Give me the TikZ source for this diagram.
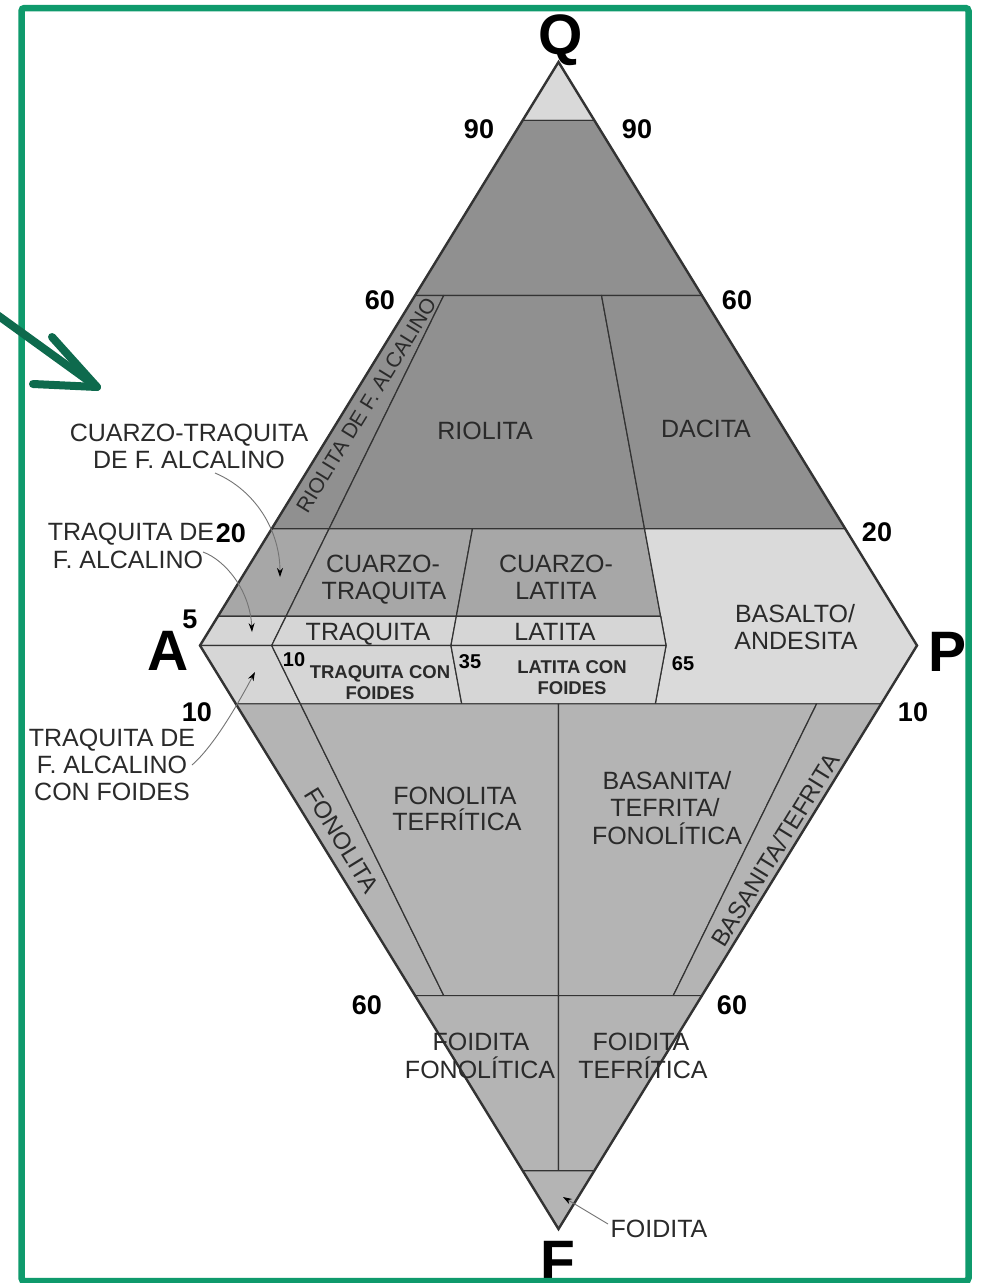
\documentclass[tikz,border=0pt]{standalone}
\usepackage{fontspec}
\setmainfont{Liberation Sans}
\usetikzlibrary{arrows.meta}
\definecolor{ctop}{HTML}{D9D9D9}
\definecolor{cdark}{HTML}{909090}
\definecolor{cmid}{HTML}{A7A7A7}
\definecolor{clight}{HTML}{D6D6D6}
\definecolor{cbas}{HTML}{DADADA}
\definecolor{cfoid}{HTML}{B4B4B4}
\definecolor{linec}{HTML}{333333}
\definecolor{txt}{HTML}{2A2A2A}
\definecolor{gborder}{HTML}{0F9A6C}
\definecolor{garrow}{HTML}{0E6A4D}
\tikzset{
  reg/.style={draw=linec, line width=1.2pt, line join=round},
  t25/.style={inner sep=0pt, text=txt, font=\fontsize{25}{25}\selectfont, text height=17.9pt, text depth=0pt},
  t24/.style={inner sep=0pt, text=txt, font=\fontsize{24}{24}\selectfont, text height=17.2pt, text depth=0pt},
  t21/.style={inner sep=0pt, text=txt, font=\fontsize{21}{21}\selectfont, text height=15pt, text depth=0pt},
  tsb/.style={inner sep=0pt, text=txt, font=\bfseries\fontsize{18.5}{18.5}\selectfont, text height=13.3pt, text depth=0pt},
  num/.style={inner sep=0pt, text=black, font=\bfseries\fontsize{27}{27}\selectfont, text height=19.3pt, text depth=0pt},
  snum/.style={inner sep=0pt, text=black, font=\bfseries\fontsize{20}{20}\selectfont, text height=14.3pt, text depth=0pt},
  big/.style={inner sep=0pt, text=black, font=\bfseries\fontsize{57}{57}\selectfont, text height=40.8pt, text depth=0pt},
  call/.style={draw=black!55, line width=0.9pt, -{Stealth[length=9pt,width=6pt,black]}},
  garr/.style={draw=garrow, line width=8pt, line cap=round, line join=round}
}
\begin{document}
\begin{tikzpicture}[x=1pt,y=-1pt]
\useasboundingbox (0,0) rectangle (986,1283);
\fill[white] (0,0) rectangle (986,1283);

% ---- upper triangle regions ----
\filldraw[reg, fill=ctop] (558.5,62) -- (594.35,120.35) -- (522.65,120.35) -- cycle;
\filldraw[reg, fill=cdark] (522.65,120.35) -- (594.35,120.35) -- (701.9,295.4) -- (415.1,295.4) -- cycle;
\filldraw[reg, fill=cdark] (415.1,295.4) -- (443.78,295.4) -- (329.06,528.8) -- (271.7,528.8) -- cycle;
\filldraw[reg, fill=cdark] (443.78,295.4) -- (601.52,295.4) -- (644.54,528.8) -- (329.06,528.8) -- cycle;
\filldraw[reg, fill=cdark] (601.52,295.4) -- (701.9,295.4) -- (845.3,528.8) -- (644.54,528.8) -- cycle;
\filldraw[reg, fill=cmid] (271.7,528.8) -- (329.06,528.8) -- (286.04,616.3) -- (217.93,616.3) -- cycle;
\filldraw[reg, fill=cmid] (329.06,528.8) -- (472.46,528.8) -- (456.33,616.3) -- (286.04,616.3) -- cycle;
\filldraw[reg, fill=cmid] (472.46,528.8) -- (644.54,528.8) -- (660.67,616.3) -- (456.33,616.3) -- cycle;
\filldraw[reg, fill=cbas] (644.54,528.8) -- (845.3,528.8) -- (917,645.5) -- (881.15,703.85) -- (655.3,703.85) -- (666.05,645.5) -- (660.67,616.3) -- cycle;
\filldraw[reg, fill=clight] (217.93,616.3) -- (286.04,616.3) -- (271.7,645.5) -- (200,645.5) -- cycle;
\filldraw[reg, fill=clight] (286.04,616.3) -- (456.33,616.3) -- (450.95,645.5) -- (271.7,645.5) -- cycle;
\filldraw[reg, fill=clight] (456.33,616.3) -- (660.67,616.3) -- (666.05,645.5) -- (450.95,645.5) -- cycle;
% ---- lower triangle regions ----
\filldraw[reg, fill=clight] (200,645.5) -- (271.7,645.5) -- (300.38,703.85) -- (235.85,703.85) -- cycle;
\filldraw[reg, fill=clight] (271.7,645.5) -- (450.95,645.5) -- (461.71,703.85) -- (300.38,703.85) -- cycle;
\filldraw[reg, fill=clight] (450.95,645.5) -- (666.05,645.5) -- (655.3,703.85) -- (461.71,703.85) -- cycle;
\filldraw[reg, fill=cfoid] (235.85,703.85) -- (300.38,703.85) -- (443.78,995.6) -- (415.1,995.6) -- cycle;
\filldraw[reg, fill=cfoid] (300.38,703.85) -- (558.5,703.85) -- (558.5,995.6) -- (443.78,995.6) -- cycle;
\filldraw[reg, fill=cfoid] (558.5,703.85) -- (816.62,703.85) -- (673.22,995.6) -- (558.5,995.6) -- cycle;
\filldraw[reg, fill=cfoid] (816.62,703.85) -- (881.15,703.85) -- (701.9,995.6) -- (673.22,995.6) -- cycle;
\filldraw[reg, fill=cfoid] (415.1,995.6) -- (558.5,995.6) -- (558.5,1170.65) -- (522.65,1170.65) -- cycle;
\filldraw[reg, fill=cfoid] (558.5,995.6) -- (701.9,995.6) -- (594.35,1170.65) -- (558.5,1170.65) -- cycle;
\filldraw[reg, fill=cfoid] (522.65,1170.65) -- (594.35,1170.65) -- (558.5,1229) -- cycle;
% ---- outer outline ----
\draw[draw=linec, line width=2.4pt, line join=miter] (200,645.5) -- (558.5,62) -- (917,645.5) -- (558.5,1229) -- cycle;

% ---- apex letters ----
\node[big] (lQ) at (561,34) {Q};
\node[big] (lA) at (168,650) {A};
\node[big] (lP) at (947,651) {P};
\node[big] (lF) at (558,1260) {F};

% ---- scale numbers ----
\node[num] (n90l) at (479,129) {90};
\node[num] (n90r) at (637,129) {90};
\node[num] (n60l) at (380,300) {60};
\node[num] (n60r) at (737,300) {60};
\node[num] (n20l) at (231,533) {20};
\node[num] (n20r) at (877,532) {20};
\node[num] (n5) at (190,619) {5};
\node[num] (n10l) at (197,712) {10};
\node[num] (n10r) at (913,712) {10};
\node[num] (n60bl) at (367,1005) {60};
\node[num] (n60br) at (732,1005) {60};
\node[snum] (s10) at (294,659) {10};
\node[snum] (s35) at (470,661) {35};
\node[snum] (s65) at (683,663) {65};

% ---- field labels ----
\node[t25] (riol) at (485,431) {RIOLITA};
\node[t25] (dac) at (706,429) {DACITA};
\node[t21, rotate=58.4] (rfa) at (366,405) {RIOLITA DE F. ALCALINO};
\node[t25] (cqt1) at (383,564) {CUARZO-};
\node[t25] (cqt2) at (384,591) {TRAQUITA};
\node[t25] (cql1) at (556,564) {CUARZO-};
\node[t25] (cql2) at (556,591) {LATITA};
\node[t25] (traq) at (368,632) {TRAQUITA};
\node[t25] (lat) at (555,632) {LATITA};
\node[t25] (bas1) at (795,614) {BASALTO/};
\node[t25] (bas2) at (796,641) {ANDESITA};
\node[tsb] (tcf1) at (380,672) {TRAQUITA CON};
\node[tsb] (tcf2) at (380,693) {FOIDES};
\node[tsb] (lcf1) at (572,667) {LATITA CON};
\node[tsb] (lcf2) at (572,688) {FOIDES};
\node[t24, rotate=-58.4] (fon) at (342,840) {FONOLITA};
\node[t25] (ft1) at (455,796) {FONOLITA};
\node[t25] (ft2) at (457,822) {TEFRÍTICA};
\node[t25] (btf1) at (667,781) {BASANITA/};
\node[t25] (btf2) at (665,808) {TEFRITA/};
\node[t25] (btf3) at (667,836) {FONOLÍTICA};
\node[t24, rotate=58.4] (bt) at (775,850) {BASANITA/TEFRITA};
\node[t25] (ff1) at (481,1042) {FOIDITA};
\node[t25] (ff2) at (480,1070) {FONOLÍTICA};
\node[t25] (fte1) at (641,1042) {FOIDITA};
\node[t25] (fte2) at (643,1070) {TEFRÍTICA};

% ---- outside labels ----
\node[t25] (cqfa1) at (189,433) {CUARZO-TRAQUITA};
\node[t25] (cqfa2) at (189,460) {DE F. ALCALINO};
\node[t25] (tfa1) at (131,532) {TRAQUITA DE};
\node[t25] (tfa2) at (128,560) {F. ALCALINO};
\node[t25] (tfc1) at (112,738) {TRAQUITA DE};
\node[t25] (tfc2) at (112,765) {F. ALCALINO};
\node[t25] (tfc3) at (112,792) {CON FOIDES};
\node[t25] (foid) at (659,1229) {FOIDITA};

% ---- callout connectors ----
\coordinate (c1s) at (215,473);
\coordinate (c1e) at (280,577);
\coordinate (c2s) at (203,552);
\coordinate (c2e) at (252,632);
\coordinate (c3s) at (192,765);
\coordinate (c3e) at (255,672);
\coordinate (c4s) at (608,1224);
\coordinate (c4e) at (563,1197);
\draw[call] (c1s) .. controls (255,490) and (280,530) .. (c1e);
\draw[call] (c2s) .. controls (225,560) and (250,590) .. (c2e);
\draw[call] (c3s) .. controls (215,745) and (240,700) .. (c3e);
\draw[call] (c4s) -- (c4e);

% ---- green frame and arrow ----
\draw[draw=gborder, line width=6.5pt, rounded corners=3pt] (21.5,8) rectangle (968.5,1281);
\coordinate (gt) at (-4,314);
\coordinate (gtip) at (97,387);
\coordinate (ga1) at (52,337);
\coordinate (ga2) at (33,384);
\draw[garr] (gt) -- (gtip);
\draw[garr] (ga1) -- (gtip) -- (ga2);
\end{tikzpicture}
\end{document}
